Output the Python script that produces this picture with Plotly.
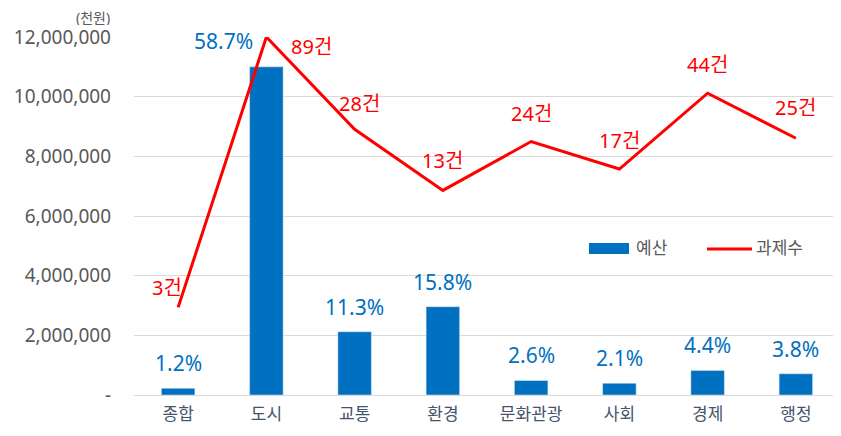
import math
import plotly.graph_objects as go

categories = ["종합", "도시", "교통", "환경", "문화관광", "사회", "경제", "행정"]
budget = [225000, 11000000, 2120000, 2960000, 487000, 395000, 825000, 712000]
budget_pct = ["1.2%", "58.7%", "11.3%", "15.8%", "2.6%", "2.1%", "4.4%", "3.8%"]
tasks = [3, 89, 28, 13, 24, 17, 44, 25]
task_labels = ["3건", "89건", "28건", "13건", "24건", "17건", "44건", "25건"]
y_tickvals = [0, 2000000, 4000000, 6000000, 8000000, 10000000, 12000000]
y_ticktext = ["-", "2,000,000", "4,000,000", "6,000,000", "8,000,000", "10,000,000", "12,000,000"]

FONT = "Noto Sans, Noto Sans CJK KR"
BLUE = "#0070C0"
RED = "#FF0000"
GRAY = "#595959"
CATC = "#44546A"

# page body has an 8px margin; compensate so the plot area lands at x 134..840, y 37..395
OFF = 8

fig = go.Figure()
fig.add_trace(go.Bar(x=categories, y=budget, name="예산", marker_color=BLUE,
                     width=0.38, yaxis="y", showlegend=False))
fig.add_trace(go.Scatter(x=categories, y=tasks, name="과제수", mode="lines",
                         line=dict(color=RED, width=3), yaxis="y2", showlegend=False))

W, H, L, B = 706.0, 358.0, 134.0, 395.0
def px(xp):
    return (xp - L) / W
def py(yp):
    return (B - yp) / H

annotations = []
for i, (c, v, t) in enumerate(zip(categories, budget, budget_pct)):
    if i == 1:
        annotations.append(dict(x=c, y=12000000, xref="x", yref="y", text=t, showarrow=False,
                                xshift=-43, yshift=-4,
                                font=dict(family=FONT, size=21, color=BLUE)))
    else:
        annotations.append(dict(x=c, y=v, xref="x", yref="y", text=t, showarrow=False,
                                yshift=25, font=dict(family=FONT, size=21, color=BLUE)))
task_shift = [(-11, 20), (45, -9), (5, 26), (0, 30), (0, 28), (0, 29), (0, 29), (0, 31)]
for i, (c, n, t) in enumerate(zip(categories, tasks, task_labels)):
    dx, dy = task_shift[i]
    annotations.append(dict(x=c, y=math.log10(n), xref="x", yref="y2", text=t,
                            showarrow=False, xshift=dx, yshift=dy,
                            font=dict(family=FONT, size=20, color=RED)))
annotations.append(dict(x=px(111), y=py(8), xref="paper", yref="paper", text="(천원)",
                        showarrow=False, xanchor="right", yanchor="top", height=16,
                        borderpad=0, valign="middle",
                        font=dict(family=FONT, size=14, color=GRAY)))

shapes = [
    dict(type="rect", xref="paper", yref="paper", x0=px(589), x1=px(629), y0=py(254), y1=py(243),
         fillcolor=BLUE, line=dict(width=0)),
    dict(type="line", xref="paper", yref="paper", x0=px(707), x1=px(752), y0=py(249), y1=py(249),
         line=dict(color=RED, width=3)),
]
annotations.append(dict(x=px(634), y=py(247), xref="paper", yref="paper", text="예산",
                        showarrow=False, xanchor="left", yanchor="middle",
                        font=dict(family=FONT, size=17, color=GRAY)))
annotations.append(dict(x=px(754), y=py(247), xref="paper", yref="paper", text="과제수",
                        showarrow=False, xanchor="left", yanchor="middle",
                        font=dict(family=FONT, size=17, color=GRAY)))

fig.update_layout(
    width=841 - OFF, height=436 - OFF,
    margin=dict(l=134 - OFF, r=1, t=37 - OFF, b=41, autoexpand=False),
    paper_bgcolor="white", plot_bgcolor="white",
    font=dict(family=FONT, color=GRAY, size=15),
    xaxis=dict(showgrid=False, tickfont=dict(size=17, color=CATC), ticks="",
               showline=True, linecolor="#D9D9D9", linewidth=1, automargin=False,
               ticklabelstandoff=4),
    yaxis=dict(range=[0, 12000000], tickvals=y_tickvals, ticktext=y_ticktext,
               showgrid=True, gridcolor="#D9D9D9", gridwidth=1, zeroline=False,
               tickfont=dict(size=19, color=GRAY), ticks="", ticklabelstandoff=22,
               automargin=False),
    yaxis2=dict(type="log", range=[0, math.log10(89)], overlaying="y", side="right",
                visible=False, showgrid=False),
    showlegend=False,
    annotations=annotations,
    shapes=shapes,
)
fig.update_traces(cliponaxis=False)

fig.write_html("out.html")
